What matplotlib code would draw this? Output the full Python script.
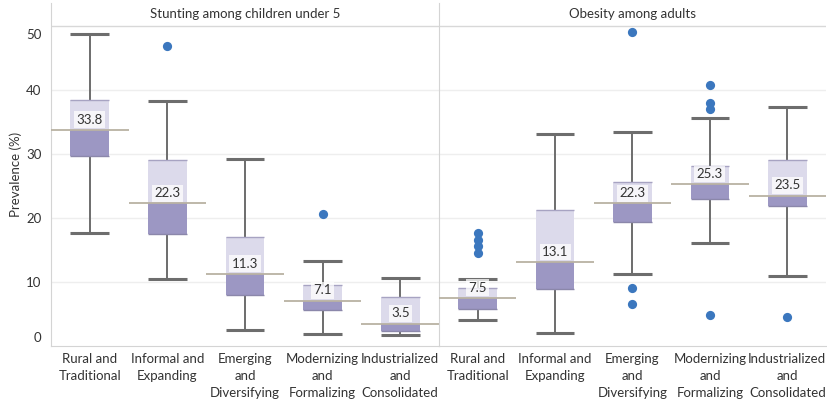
import matplotlib
matplotlib.use("Agg")
import matplotlib.pyplot as plt
from matplotlib.transforms import ScaledTranslation, blended_transform_factory

plt.rcParams['font.family'] = ['Lato', 'DejaVu Sans']

categories = ["Rural and\nTraditional", "Informal and\nExpanding", "Emerging\nand\nDiversifying",
              "Modernizing\nand\nFormalizing", "Industrialized\nand\nConsolidated"]
panel_titles = ["Stunting among children under 5", "Obesity among adults"]

stunting_lo = [17.6, 10.5, 2.5, 1.9, 1.7]
stunting_q1 = [29.7, 17.5, 7.9, 5.7, 2.4]
stunting_med = [33.8, 22.3, 11.3, 7.1, 3.5]
stunting_q3 = [38.4, 29.1, 17.0, 9.6, 7.6]
stunting_hi = [48.7, 38.3, 29.2, 13.3, 10.7]
stunting_outliers = [[], [46.8], [], [20.7], []]

obesity_lo = [4.0, 2.1, 11.2, 16.1, 11.0]
obesity_q1 = [5.8, 8.9, 19.4, 23.0, 21.8]
obesity_med = [7.5, 13.1, 22.3, 25.3, 23.5]
obesity_q3 = [9.0, 21.2, 25.7, 28.2, 29.1]
obesity_hi = [10.4, 33.1, 33.4, 35.6, 37.4]
obesity_outliers = [[17.6, 16.6, 15.6, 14.5], [], [49.1, 9.0, 6.5], [40.8, 37.9, 37.0, 4.8], [4.5]]

yticks = [0, 10, 20, 30, 40, 50]

LIGHT = "#dcdaeb"
DARK = "#9c97c3"
WHISK = "#6d6d6d"
MEDC = "#b9b2a3"
DOT = "#3b77be"
GRID = "#eeeeee"
FRAME = "#d4d4d4"
TXT = "#333333"
FS = 9.5

W, H = 828, 404
fig = plt.figure(figsize=(W / 100, H / 100), dpi=100)
ax_bottom = (H - 346) / H
ax_top = (H - 3) / H
ymax = 343 / 6.4
ax1 = fig.add_axes([51 / W, ax_bottom, 388 / W, ax_top - ax_bottom])
ax2 = fig.add_axes([439 / W, ax_bottom, 387 / W, ax_top - ax_bottom], sharey=ax1)

panels = [
    (ax1, stunting_lo, stunting_q1, stunting_med, stunting_q3, stunting_hi, stunting_outliers),
    (ax2, obesity_lo, obesity_q1, obesity_med, obesity_q3, obesity_hi, obesity_outliers),
]

for i, (ax, lo, q1, med, q3, hi, outl) in enumerate(panels):
    x = list(range(len(categories)))
    ax.set_xlim(-0.5, len(categories) - 0.5)
    ax.set_ylim(0, ymax)
    for t in yticks[1:-1]:
        ax.axhline(t, color=GRID, lw=1, zorder=0)
    ax.axhline(50, color="#d8d8d8", lw=1, zorder=0)

    ax.bar(x, [m - a for m, a in zip(med, q1)], bottom=q1, width=0.5, color=DARK, zorder=2)
    ax.bar(x, [b - m for b, m in zip(q3, med)], bottom=med, width=0.5, color=LIGHT, zorder=2)
    ax.hlines(q1, [v - 0.25 for v in x], [v + 0.25 for v in x], color="#8b87aa", lw=1, zorder=3)
    ax.hlines(q3, [v - 0.25 for v in x], [v + 0.25 for v in x], color="#a7a3c2", lw=1, zorder=3)
    ax.vlines(x, q3, hi, color=WHISK, lw=1.4, zorder=1)
    ax.vlines(x, lo, q1, color=WHISK, lw=1.4, zorder=1)
    ax.hlines(hi, [v - 0.25 for v in x], [v + 0.25 for v in x], color=WHISK, lw=2.2, zorder=3)
    ax.hlines(lo, [v - 0.25 for v in x], [v + 0.25 for v in x], color=WHISK, lw=2.2, zorder=3)
    ax.hlines(med, [v - 0.5 for v in x], [v + 0.5 for v in x], color=MEDC, lw=1.3, zorder=4)
    for xi, pts in zip(x, outl):
        if pts:
            ax.scatter([xi] * len(pts), pts, s=44, color=DOT, zorder=5, linewidths=0)
    for xi, m in zip(x, med):
        ax.annotate(f"{m:.1f}", (xi, m), xytext=(0, 7.3), textcoords="offset points",
                    ha="center", va="center", fontsize=FS, color=TXT, zorder=6,
                    bbox=dict(boxstyle="square,pad=0.18", fc="white", ec="none", alpha=0.75))

    ax.text(0.5, (50 + ymax) / 2, panel_titles[i],
            transform=blended_transform_factory(ax.transAxes, ax.transData),
            ha="center", va="center", fontsize=FS, color=TXT)

    ax.set_xticks(x)
    ax.set_xticklabels(categories, fontsize=FS, color=TXT, linespacing=1.5)
    ax.tick_params(axis="x", length=0, pad=5)
    for s in ["top", "right"]:
        ax.spines[s].set_visible(False)
    ax.spines["left"].set_color(FRAME)
    ax.spines["bottom"].set_color(FRAME)
    ax.set_facecolor("none")

ax1.set_yticks(yticks)
ax1.set_yticklabels([str(t) for t in yticks], fontsize=FS, color=TXT)
ax1.tick_params(axis="y", length=0, pad=7)
ax2.tick_params(axis="y", length=0, labelleft=False)
ax1.set_ylabel("Prevalence (%)", fontsize=FS, color=TXT, labelpad=3)

labels = ax1.get_yticklabels()
labels[0].set_transform(labels[0].get_transform() + ScaledTranslation(0, 9 / 100, fig.dpi_scale_trans))
labels[-1].set_transform(labels[-1].get_transform() + ScaledTranslation(0, -8 / 100, fig.dpi_scale_trans))

fig.savefig("out.png", dpi=100, facecolor="white")
